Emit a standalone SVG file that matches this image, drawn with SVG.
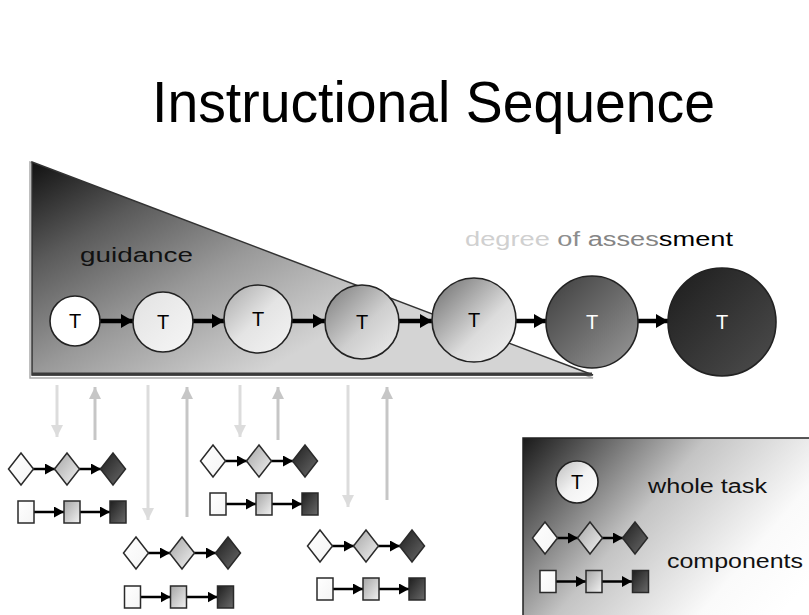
<svg xmlns="http://www.w3.org/2000/svg" xmlns:xlink="http://www.w3.org/1999/xlink" width="809" height="615" viewBox="0 0 809 615">
<style>
text{font-family:"Liberation Sans",Arial,sans-serif;}
.circ{stroke:#222;stroke-width:1.6;}
.t{font-size:20px;text-anchor:middle;}
.lbl{font-size:20px;fill:#111;}
.main{stroke:#000;stroke-width:4.5;fill:none;}
.small{stroke:#000;stroke-width:2.5;fill:none;}
.dn{stroke:#dcdcdc;stroke-width:3;fill:none;}
.up{stroke:#c6c6c6;stroke-width:3;fill:none;}
.shape{stroke:#2a2a2a;stroke-width:1.5;}
</style>
<defs>
<linearGradient id="triG" gradientUnits="userSpaceOnUse" x1="32" y1="162" x2="180" y2="420">
<stop offset="0" stop-color="#111"/><stop offset="0.3" stop-color="#5a5a5a"/><stop offset="0.62" stop-color="#999"/><stop offset="1" stop-color="#d4d4d4"/>
</linearGradient>
<linearGradient id="legG" gradientUnits="userSpaceOnUse" x1="523" y1="438" x2="760" y2="640">
<stop offset="0" stop-color="#1a1a1a"/><stop offset="0.45" stop-color="#c4c4c4"/><stop offset="0.8" stop-color="#fafafa"/><stop offset="1" stop-color="#fff"/>
</linearGradient>
<linearGradient id="c2" x1="0" y1="0" x2="1" y2="1"><stop offset="0" stop-color="#e2e2e2"/><stop offset="1" stop-color="#f6f6f6"/></linearGradient>
<linearGradient id="c3" x1="0" y1="0" x2="1" y2="1"><stop offset="0" stop-color="#a8a8a8"/><stop offset="0.5" stop-color="#e4e4e4"/><stop offset="1" stop-color="#f4f4f4"/></linearGradient>
<linearGradient id="c4" x1="0" y1="0" x2="1" y2="1"><stop offset="0" stop-color="#7a7a7a"/><stop offset="0.55" stop-color="#cfcfcf"/><stop offset="1" stop-color="#eee"/></linearGradient>
<linearGradient id="c5" x1="0" y1="0" x2="1" y2="1"><stop offset="0" stop-color="#6a6a6a"/><stop offset="0.6" stop-color="#dcdcdc"/><stop offset="1" stop-color="#f2f2f2"/></linearGradient>
<linearGradient id="c6" x1="0" y1="0" x2="1" y2="1"><stop offset="0" stop-color="#3c3c3c"/><stop offset="1" stop-color="#9a9a9a"/></linearGradient>
<linearGradient id="c7" x1="0" y1="0" x2="1" y2="1"><stop offset="0" stop-color="#1c1c1c"/><stop offset="1" stop-color="#4e4e4e"/></linearGradient>
<linearGradient id="cl" x1="0" y1="0" x2="1" y2="1"><stop offset="0" stop-color="#bdbdbd"/><stop offset="0.5" stop-color="#f2f2f2"/><stop offset="1" stop-color="#fff"/></linearGradient>
<linearGradient id="sW" x1="0" y1="0" x2="1" y2="1"><stop offset="0" stop-color="#fff"/><stop offset="1" stop-color="#f4f4f4"/></linearGradient>
<linearGradient id="sG" x1="0" y1="0" x2="1" y2="1"><stop offset="0" stop-color="#a5a5a5"/><stop offset="1" stop-color="#f2f2f2"/></linearGradient>
<linearGradient id="sD" x1="0" y1="0" x2="1" y2="1"><stop offset="0" stop-color="#1e1e1e"/><stop offset="1" stop-color="#6a6a6a"/></linearGradient>
<polygon id="dW" class="shape" points="0,-16 12.5,0 0,16 -12.5,0" fill="url(#sW)"/>
<polygon id="dG" class="shape" points="0,-16 12.5,0 0,16 -12.5,0" fill="url(#sG)"/>
<polygon id="dD" class="shape" points="0,-16 12.5,0 0,16 -12.5,0" fill="url(#sD)"/>
<rect id="rW" class="shape" x="-8" y="-11" width="16" height="22" fill="url(#sW)"/>
<rect id="rG" class="shape" x="-8" y="-11" width="16" height="22" fill="url(#sG)"/>
<rect id="rD" class="shape" x="-8" y="-11" width="16" height="22" fill="url(#sD)"/>
<marker id="ahM" markerUnits="userSpaceOnUse" markerWidth="14" markerHeight="14" refX="12" refY="7" orient="auto"><path d="M0,0 L12,7 L0,14 Z" fill="#000"/></marker>
<marker id="ahS" markerUnits="userSpaceOnUse" markerWidth="11" markerHeight="11" refX="10" refY="5.5" orient="auto"><path d="M0,0 L10,5.5 L0,11 Z" fill="#000"/></marker>
<marker id="ahD" markerUnits="userSpaceOnUse" markerWidth="12" markerHeight="12" refX="12" refY="6" orient="auto"><path d="M0,0 L12,6 L0,12 Z" fill="#dcdcdc"/></marker>
<marker id="ahU" markerUnits="userSpaceOnUse" markerWidth="12" markerHeight="12" refX="12" refY="6" orient="auto"><path d="M0,0 L12,6 L0,12 Z" fill="#c6c6c6"/></marker>
</defs>
<rect width="809" height="615" fill="#fff"/>

<text id="title" x="152" y="122" font-size="58" textLength="563" lengthAdjust="spacingAndGlyphs" fill="#000">Instructional Sequence</text>

<g id="guidance">
<polygon points="30,162 30,378 593,378" fill="none" stroke="#aaa" stroke-width="1.5"/>
<polygon points="32,162 593,375 32,375" fill="url(#triG)" stroke="#333" stroke-width="1.5"/>
<line x1="32" y1="374" x2="592" y2="374" stroke="#3a3a3a" stroke-width="3"/>
<text class="lbl" x="80" y="262" textLength="113" lengthAdjust="spacingAndGlyphs">guidance</text>
</g>

<text id="assessment" x="465" y="246" font-size="20" textLength="268" lengthAdjust="spacingAndGlyphs"><tspan fill="#d0d0d0">degree </tspan><tspan fill="#8e8e8e">of </tspan><tspan fill="#858585">asses</tspan><tspan fill="#000">sment</tspan></text>

<g id="connectors">
<path class="main" d="M100,321 H133" marker-end="url(#ahM)"/>
<path class="main" d="M193,321 H224" marker-end="url(#ahM)"/>
<path class="main" d="M292,321 H325" marker-end="url(#ahM)"/>
<path class="main" d="M399,321 H432" marker-end="url(#ahM)"/>
<path class="main" d="M516,321 H546" marker-end="url(#ahM)"/>
<path class="main" d="M638,321 H668" marker-end="url(#ahM)"/>
<path class="dn" d="M57,385 V437" marker-end="url(#ahD)"/>
<path class="up" d="M95,440 V387" marker-end="url(#ahU)"/>
<path class="dn" d="M148,385 V520" marker-end="url(#ahD)"/>
<path class="up" d="M187,517 V387" marker-end="url(#ahU)"/>
<path class="dn" d="M240,385 V437" marker-end="url(#ahD)"/>
<path class="up" d="M278,440 V387" marker-end="url(#ahU)"/>
<path class="dn" d="M348,385 V507" marker-end="url(#ahD)"/>
<path class="up" d="M387,500 V387" marker-end="url(#ahU)"/>
<g transform="translate(21,469)">
<path class="small" d="M12,0 H34" marker-end="url(#ahS)"/><path class="small" d="M58,0 H80" marker-end="url(#ahS)"/>
<path class="small" d="M13,43 H43" marker-end="url(#ahS)"/><path class="small" d="M59,43 H89" marker-end="url(#ahS)"/>
</g>
<g transform="translate(136,553)">
<path class="small" d="M12,0 H34" marker-end="url(#ahS)"/><path class="small" d="M58,0 H80" marker-end="url(#ahS)"/>
<path class="small" d="M4.5,44 H34.5" marker-end="url(#ahS)"/><path class="small" d="M50.5,44 H81.5" marker-end="url(#ahS)"/>
</g>
<g transform="translate(213,461)">
<path class="small" d="M12,0 H34" marker-end="url(#ahS)"/><path class="small" d="M58,0 H80" marker-end="url(#ahS)"/>
<path class="small" d="M13,43 H43" marker-end="url(#ahS)"/><path class="small" d="M59,43 H89" marker-end="url(#ahS)"/>
</g>
<g transform="translate(320,546)">
<path class="small" d="M12,0 H34" marker-end="url(#ahS)"/><path class="small" d="M58,0 H80" marker-end="url(#ahS)"/>
<path class="small" d="M13,43 H43" marker-end="url(#ahS)"/><path class="small" d="M59,43 H89" marker-end="url(#ahS)"/>
</g>
</g>

<g id="t1"><circle class="circ" cx="75" cy="321" r="25" fill="#fff"/><text class="t" x="75" y="328">T</text></g>
<g id="t2"><circle class="circ" cx="163" cy="322" r="30" fill="url(#c2)"/><text class="t" x="163" y="329">T</text></g>
<g id="t3"><circle class="circ" cx="258" cy="319" r="34" fill="url(#c3)"/><text class="t" x="258" y="326">T</text></g>
<g id="t4"><circle class="circ" cx="362" cy="322" r="37" fill="url(#c4)"/><text class="t" x="362" y="329">T</text></g>
<g id="t5"><circle class="circ" cx="474" cy="320" r="42" fill="url(#c5)"/><text class="t" x="474" y="327">T</text></g>
<g id="t6"><circle class="circ" cx="592" cy="322" r="46" fill="url(#c6)"/><text class="t" x="592" y="329" fill="#fff">T</text></g>
<g id="t7"><circle class="circ" cx="722" cy="322" r="54" fill="url(#c7)"/><text class="t" x="722" y="329" fill="#fff">T</text></g>

<g id="compA" transform="translate(21,469)">
<use href="#dW" x="0" y="0"/><use href="#dG" x="46" y="0"/><use href="#dD" x="92" y="0"/>
<use href="#rW" x="5" y="43"/><use href="#rG" x="51" y="43"/><use href="#rD" x="97" y="43"/>
</g>
<g id="compB" transform="translate(136,553)">
<use href="#dW" x="0" y="0"/><use href="#dG" x="46" y="0"/><use href="#dD" x="92" y="0"/>
<use href="#rW" x="-3.5" y="44"/><use href="#rG" x="42.5" y="44"/><use href="#rD" x="89.5" y="44"/>
</g>
<g id="compC" transform="translate(213,461)">
<use href="#dW" x="0" y="0"/><use href="#dG" x="46" y="0"/><use href="#dD" x="92" y="0"/>
<use href="#rW" x="5" y="43"/><use href="#rG" x="51" y="43"/><use href="#rD" x="97" y="43"/>
</g>
<g id="compD" transform="translate(320,546)">
<use href="#dW" x="0" y="0"/><use href="#dG" x="46" y="0"/><use href="#dD" x="92" y="0"/>
<use href="#rW" x="5" y="43"/><use href="#rG" x="51" y="43"/><use href="#rD" x="97" y="43"/>
</g>

<g id="legend">
<rect x="523" y="438" width="300" height="190" fill="url(#legG)" stroke="#222" stroke-width="1.5"/>
<circle class="circ" cx="577" cy="482" r="21" fill="url(#cl)"/><text class="t" x="577" y="489">T</text>
<text class="lbl" x="648" y="493" font-size="19" textLength="119" lengthAdjust="spacingAndGlyphs">whole task</text>
<g transform="translate(545,538)">
<path class="small" d="M12,0 H33" marker-end="url(#ahS)"/><path class="small" d="M57,0 H78" marker-end="url(#ahS)"/>
<path class="small" d="M11,43.5 H41" marker-end="url(#ahS)"/><path class="small" d="M56,43.5 H87" marker-end="url(#ahS)"/>
<use href="#dW" x="0" y="0"/><use href="#dG" x="45" y="0"/><use href="#dD" x="90" y="0"/>
<use href="#rW" x="3" y="43.5"/><use href="#rG" x="49" y="43.5"/><use href="#rD" x="95.5" y="43.5"/>
</g>
<text class="lbl" x="667" y="568" font-size="19" textLength="136" lengthAdjust="spacingAndGlyphs">components</text>
</g>
</svg>
